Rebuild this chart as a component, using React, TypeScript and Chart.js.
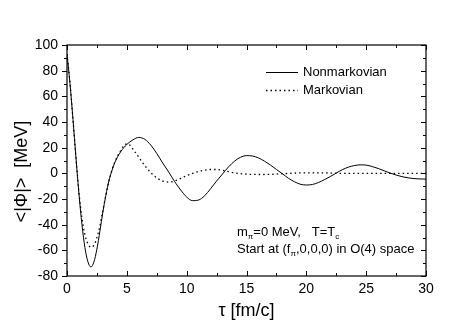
import React, { useEffect, useRef } from "react";
import { Chart, registerables } from "chart.js";

Chart.register(...registerables);

const seriesLabels = ["Nonmarkovian", "Markovian"];

const tauNonMarkov = [0, 0.25, 0.5, 0.75, 1, 1.25, 1.5, 1.75, 2, 2.25, 2.5, 2.75, 3, 3.25, 3.5, 3.75, 4, 4.5, 5, 5.5, 6, 6.5, 7, 7.5, 8, 8.5, 9, 9.5, 10, 10.5, 11, 11.5, 12, 12.5, 13, 13.5, 14, 14.5, 15, 15.5, 16, 16.5, 17, 17.5, 18, 18.5, 19, 19.5, 20, 20.5, 21, 21.5, 22, 22.5, 23, 23.5, 24, 24.5, 25, 25.5, 26, 26.5, 27, 27.5, 28, 28.5, 29, 29.5, 30];
const phiNonMarkov = [93, 70, 42, 12, -16, -40, -58, -69, -73, -69, -59, -45, -30, -17, -6, 2, 8.5, 17, 22.5, 26, 28, 26.5, 22, 15.5, 8, 1, -6.5, -13, -18.5, -21.3, -20.8, -17.5, -12, -6, -0.5, 5, 9.5, 12.5, 13.8, 13.5, 12, 9.5, 6.5, 3, -0.3, -3.8, -6.5, -8.5, -9.1, -8.7, -7.2, -5, -2.5, 0.2, 2.8, 4.8, 6.0, 6.6, 6.4, 5.3, 3.8, 2.0, 0.2, -1.3, -2.6, -3.5, -4.1, -4.4, -4.5];

const tauMarkov = [0, 0.25, 0.5, 0.75, 1, 1.25, 1.5, 1.75, 2, 2.25, 2.5, 2.75, 3, 3.25, 3.5, 3.75, 4, 4.5, 4.75, 5, 5.25, 5.5, 6, 6.5, 7, 7.5, 8, 8.5, 9, 9.5, 10, 10.5, 11, 11.5, 12, 12.5, 13, 13.5, 14, 15, 16, 17, 18, 19, 20, 21, 22, 23, 24, 25, 26, 27, 28, 29, 30];
const phiMarkov = [93, 70, 42, 12, -15, -35, -48, -55, -57.5, -56, -50, -41, -29, -17, -6, 2.5, 9, 18, 21.5, 23, 22, 19, 12.5, 6, 0.5, -3.5, -6, -6.8, -6, -4, -1.8, 0, 1.5, 2.5, 3, 3, 2.3, 1.3, 0.3, -0.6, -0.9, -0.8, -0.3, 0.2, 0.4, 0.4, 0.2, 0, -0.1, -0.1, 0, 0, 0, 0, 0];

const xTickValues = [0, 5, 10, 15, 20, 25, 30];
const yTickValues = [-80, -60, -40, -20, 0, 20, 40, 60, 80, 100];

const xTitle = "τ [fm/c]";
const yTitle = "<|Φ|>  [MeV]";

const FONT = '"Liberation Sans", Arial, Helvetica, sans-serif';

const framePlugin = {
  id: "frame",
  afterDraw(chart: any) {
    const { ctx, chartArea: a, scales } = chart;
    const x = scales.x;
    const y = scales.y;
    ctx.save();
    ctx.strokeStyle = "#000";
    ctx.lineWidth = 1.2;
    ctx.strokeRect(a.left, a.top, a.right - a.left, a.bottom - a.top);
    ctx.lineWidth = 1;
    ctx.beginPath();
    const xMin = xTickValues[0];
    const xMax = xTickValues[xTickValues.length - 1];
    for (let v = xMin; v <= xMax + 1e-9; v += 2.5) {
      const p = Math.round(x.getPixelForValue(v)) + 0.5;
      const len = Math.abs(v % 5) < 1e-9 ? 5 : 3;
      ctx.moveTo(p, a.bottom);
      ctx.lineTo(p, a.bottom - len);
      ctx.moveTo(p, a.top);
      ctx.lineTo(p, a.top + len);
    }
    const yMin = yTickValues[0];
    const yMax = yTickValues[yTickValues.length - 1];
    for (let v = yMin; v <= yMax + 1e-9; v += 10) {
      const p = Math.round(y.getPixelForValue(v)) + 0.5;
      const len = Math.abs(v % 20) < 1e-9 ? 5 : 3;
      ctx.moveTo(a.left, p);
      ctx.lineTo(a.left - len, p);
      ctx.moveTo(a.right, p);
      ctx.lineTo(a.right - len, p);
    }
    ctx.stroke();

    // Y axis title
    ctx.fillStyle = "#000";
    ctx.font = `18px ${FONT}`;
    ctx.textAlign = "center";
    ctx.textBaseline = "middle";
    ctx.save();
    ctx.translate(22, (a.top + a.bottom) / 2 + 11);
    ctx.rotate(-Math.PI / 2);
    ctx.fillText(yTitle, 0, 0);
    ctx.restore();

    // Legend inside plot
    ctx.font = `13px ${FONT}`;
    ctx.textAlign = "left";
    chart.data.datasets.forEach((ds: any, i: number) => {
      const ly = a.top + 27 + i * 18;
      ctx.beginPath();
      ctx.lineWidth = ds.borderWidth;
      ctx.setLineDash(ds.borderDash || []);
      ctx.moveTo(a.left + 199, ly + 0.5);
      ctx.lineTo(a.left + 231, ly + 0.5);
      ctx.stroke();
      ctx.setLineDash([]);
      ctx.fillText(ds.label, a.left + 236, ly);
    });

    // Annotation
    ctx.textBaseline = "alphabetic";
    const drawRuns = (runs: [string, boolean][], sx: number, sy: number) => {
      let cx = sx;
      runs.forEach(([t, sub]) => {
        ctx.font = sub ? `8px ${FONT}` : `13px ${FONT}`;
        ctx.fillText(t, cx, sub ? sy + 3 : sy);
        cx += ctx.measureText(t).width;
      });
    };
    drawRuns([["m", false], ["π", true], ["=0 MeV,   T=T", false], ["c", true]], a.left + 170, 236);
    drawRuns([["Start at (f", false], ["π", true], [",0,0,0) in O(4) space", false]], a.left + 170, 253);
    ctx.restore();
  },
};

export default function App() {
  const ref = useRef<HTMLCanvasElement | null>(null);
  useEffect(() => {
    document.body.style.margin = "0";
    const canvas = ref.current;
    if (!canvas) return;
    const chart = new Chart(canvas, {
      type: "line",
      data: {
        datasets: [
          {
            label: seriesLabels[0],
            data: tauNonMarkov.map((t, i) => ({ x: t, y: phiNonMarkov[i] })),
            borderColor: "#000",
            borderWidth: 1,
            pointRadius: 0,
            cubicInterpolationMode: "monotone",
            fill: false,
          },
          {
            label: seriesLabels[1],
            data: tauMarkov.map((t, i) => ({ x: t, y: phiMarkov[i] })),
            borderColor: "#000",
            borderWidth: 1.3,
            borderDash: [1.5, 3],
            pointRadius: 0,
            cubicInterpolationMode: "monotone",
            fill: false,
          },
        ],
      },
      options: {
        animation: false,
        responsive: false,
        devicePixelRatio: 1,
        layout: { padding: { top: 45, right: 43, left: 0, bottom: 0 } },
        plugins: { legend: { display: false }, tooltip: { enabled: false } },
        scales: {
          x: {
            type: "linear",
            min: xTickValues[0],
            max: xTickValues[xTickValues.length - 1],
            afterBuildTicks: (s: any) => {
              s.ticks = xTickValues.map((v) => ({ value: v }));
            },
            afterFit: (s: any) => {
              s.height = 51;
            },
            grid: { display: false, drawTicks: false },
            border: { display: false },
            ticks: { color: "#000", font: { size: 14, family: FONT }, padding: 5, maxRotation: 0 },
            title: { display: true, text: xTitle, color: "#000", font: { size: 18, family: FONT }, padding: { top: 0, bottom: 5 } },
          },
          y: {
            type: "linear",
            min: yTickValues[0],
            max: yTickValues[yTickValues.length - 1],
            afterBuildTicks: (s: any) => {
              s.ticks = yTickValues.map((v) => ({ value: v }));
            },
            afterFit: (s: any) => {
              s.width = 67;
            },
            grid: { display: false, drawTicks: false },
            border: { display: false },
            ticks: { color: "#000", font: { size: 14, family: FONT }, padding: 9 },
          },
        },
      },
      plugins: [framePlugin],
    } as any);
    return () => chart.destroy();
  }, []);
  return <canvas ref={ref} width={469} height={327} style={{ display: "block" }} />;
}
